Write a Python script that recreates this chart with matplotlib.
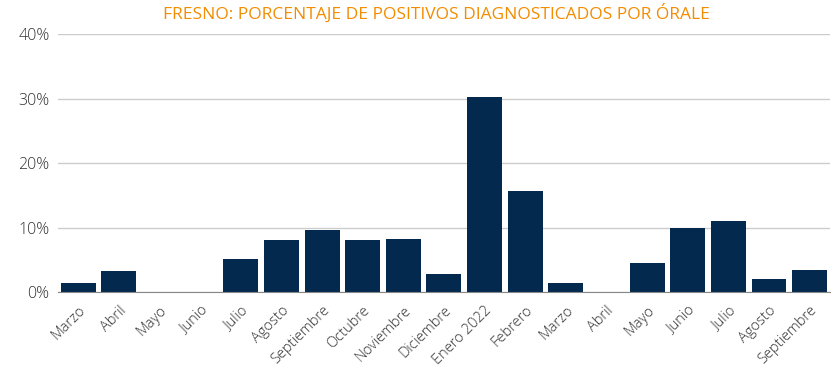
import matplotlib
matplotlib.use("Agg")
import matplotlib.pyplot as plt
import numpy as np

# porcentaje de positivos por mes (mar 2021 - sep 2022)
meses = ["Marzo", "Abril", "Mayo", "Junio", "Julio", "Agosto", "Septiembre",
         "Octubre", "Noviembre", "Diciembre", "Enero 2022", "Febrero", "Marzo",
         "Abril", "Mayo", "Junio", "Julio", "Agosto", "Septiembre"]
positivos = [1.4, 3.3, 0, 0, 5.1, 8.0, 9.6, 8.0, 8.2, 2.8,
             30.2, 15.6, 1.4, 0, 4.5, 9.9, 11.0, 2.0, 3.4]
yticks = [0, 10, 20, 30, 40]

plt.rcParams['font.family'] = ['Open Sans', 'DejaVu Sans']

fig = plt.figure(figsize=(8.4, 3.78), dpi=100)
ax = fig.add_axes([0.069, 0.2275, 0.919, 0.6825])

x = np.arange(len(meses))
ax.bar(x, positivos, width=0.86, color="#03294f", zorder=3)

ax.set_ylim(0, 40)
ax.set_xlim(-0.5, len(meses) - 0.5)
ax.set_yticks(yticks)
ax.set_yticklabels([str(t) + "%" for t in yticks], fontsize=11.5, color="#333333", fontweight="light")
ax.set_xticks(x)
ax.set_xticklabels(meses, rotation=45, ha="right", rotation_mode="anchor",
                   fontsize=10.5, color="#333333", fontweight="light")
ax.tick_params(length=0, pad=6)
ax.tick_params(axis="x", pad=8)
ax.grid(axis="y", color="#cccccc", linewidth=1, zorder=0)
for s in ["top", "right", "left"]:
    ax.spines[s].set_visible(False)
ax.spines["bottom"].set_color("#888888")
ax.spines["bottom"].set_zorder(4)

fig.text(0.52, 0.965, "FRESNO: PORCENTAJE DE POSITIVOS DIAGNOSTICADOS POR ÓRALE",
         ha="center", va="center", fontsize=12.5, color="#f28c00")

fig.savefig("out.png", dpi=100)
